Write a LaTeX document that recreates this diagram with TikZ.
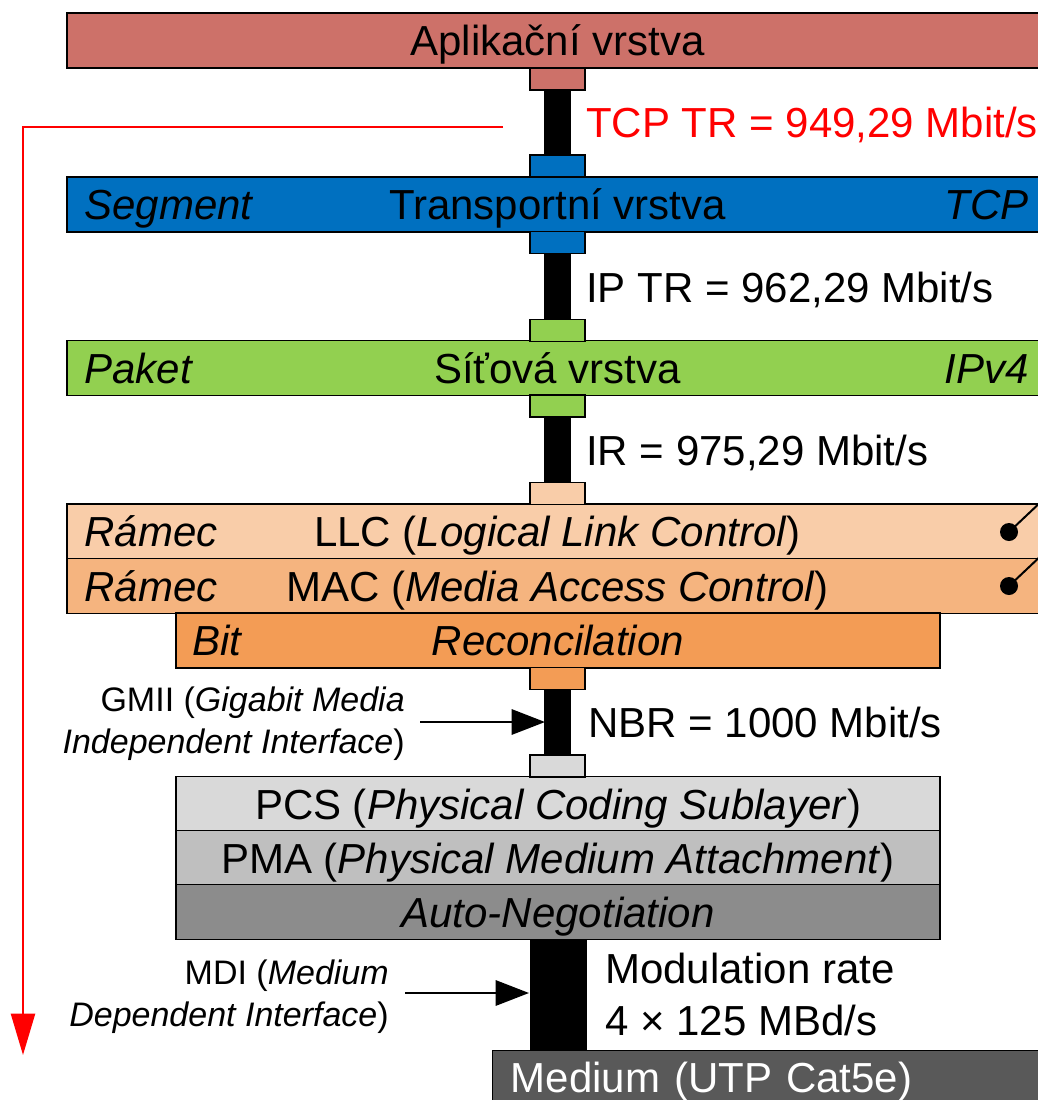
\documentclass[tikz,border=0pt]{standalone}
\usepackage{fontspec}
\setmainfont{Liberation Sans}
\usetikzlibrary{arrows.meta,calc}

% layer colours
\definecolor{appcol}{HTML}{CD7169}
\definecolor{tcpcol}{HTML}{0070C0}
\definecolor{netcol}{HTML}{92D050}
\definecolor{llccol}{HTML}{F9CDA9}
\definecolor{maccol}{HTML}{F5B47F}
\definecolor{reccol}{HTML}{F39C55}
\definecolor{pcscol}{HTML}{D9D9D9}
\definecolor{pmacol}{HTML}{BFBFBF}
\definecolor{ancol}{HTML}{8C8C8C}
\definecolor{medcol}{HTML}{595959}
\definecolor{tracecol}{HTML}{FF0000}

\tikzset{
  bigfont/.style={font=\fontsize{31.5pt}{39pt}\selectfont},
  itfont/.style={font=\fontsize{31.5pt}{39pt}\selectfont\itshape},
  smallfont/.style={font=\fontsize{25.5pt}{31.5pt}\selectfont},
  layer/.style={draw, line width=1.1pt, inner sep=0pt, minimum height=41pt,
                text height=22.5pt, text depth=0pt, bigfont},
  fulllayer/.style={layer, minimum width=735.75pt},
  halflayer/.style={layer, minimum width=573pt},
  tab/.style={draw, line width=1.1pt, minimum width=41.25pt, minimum height=16.5pt, inner sep=0pt},
  link/.style={line width=20.25pt, black},
  widelink/.style={line width=42.75pt, black},
  tag/.style={itfont, inner sep=0pt, text height=22.5pt, text depth=0pt},
  rate/.style={bigfont, inner sep=0pt, text height=22.5pt, text depth=0pt, anchor=west},
  note/.style={smallfont, align=right, inner sep=0pt, anchor=east},
  pointer/.style={line width=1.5pt, -{Triangle[length=25pt,width=19pt]}},
  trace/.style={line width=1.8pt, tracecol, -{Triangle[length=31pt,width=18pt]}},
  knob/.style={circle, fill=black, minimum size=13.5pt, inner sep=0pt},
  knobline/.style={line width=1.5pt},
}

\begin{document}
\begin{tikzpicture}[x=0.75pt, y=-0.75pt]
\path[use as bounding box, clip] (0,0) rectangle (1038,1100);

% upper layers
\node[fulllayer, fill=appcol] (app) at (557.5,40.5) {Aplikační vrstva};
\node[fulllayer, fill=tcpcol] (tcp) at (557.5,204.5) {Transportní vrstva};
\node[fulllayer, fill=netcol] (net) at (557.5,368) {Síťová vrstva};
\node[fulllayer, fill=llccol] (llc) at (557.5,531.5) {LLC (\textit{Logical Link Control})};
\node[fulllayer, fill=maccol] (mac) at (557.5,586) {MAC (\textit{Media Access Control})};
\node[halflayer, fill=reccol] (rec) at (558,640.5) {\textit{Reconcilation}};

% physical layers
\node[halflayer, fill=pcscol] (pcs) at (558,804) {PCS (\textit{Physical Coding Sublayer})};
\node[halflayer, fill=pmacol] (pma) at (558,858) {PMA (\textit{Physical Medium Attachment})};
\node[halflayer, fill=ancol] (an) at (558,912) {\textit{Auto-Negotiation}};
\node[draw, line width=1.1pt, fill=medcol, text=white, bigfont, anchor=north west,
      text width=393pt, align=left, inner xsep=13.5pt, inner ysep=0pt,
      minimum height=39.5pt, text height=22.5pt, text depth=0pt]
      (medium) at (492,1050) {Medium (UTP Cat5e)};

% side tags
\node[tag, anchor=west] (segtag) at ($(tcp.west)+(18,0)$) {Segment};
\node[tag, anchor=east] (tcptag) at ($(tcp.east)+(-20,0)$) {TCP};
\node[tag, anchor=west] (pkttag) at ($(net.west)+(18,0)$) {Paket};
\node[tag, anchor=east] (iptag) at ($(net.east)+(-20,0)$) {IPv4};
\node[tag, anchor=west] (llctag) at ($(llc.west)+(18,0)$) {Rámec};
\node[tag, anchor=west] (mactag) at ($(mac.west)+(18,0)$) {Rámec};
\node[tag, anchor=west] (bittag) at ($(rec.west)+(17,0)$) {Bit};

% links between layers
\draw[link] (557.5,79) -- (557.5,166);
\draw[link] (557.5,242.5) -- (557.5,330.5);
\draw[link] (557.5,406) -- (557.5,493.5);
\draw[link] (557.5,678.5) -- (557.5,766);
\draw[widelink] (an.south) -- (an.south |- medium.north);

% interface tabs
\node[tab, fill=appcol] (tabA) at (557.5,79) {};
\node[tab, fill=tcpcol] (tabT1) at (557.5,166) {};
\node[tab, fill=tcpcol] (tabT2) at (557.5,242.5) {};
\node[tab, fill=netcol] (tabN1) at (557.5,330.5) {};
\node[tab, fill=netcol] (tabN2) at (557.5,406) {};
\node[tab, fill=llccol] (tabL) at (557.5,493.5) {};
\node[tab, fill=reccol] (tabR) at (557.5,678.5) {};
\node[tab, fill=pcscol] (tabP) at (557.5,766) {};

% throughput labels
\node[rate, text=tracecol] (tcptr) at (586,122.5) {TCP TR = 949,29 Mbit/s};
\node[rate] (iptr) at (586,287) {IP TR = 962,29 Mbit/s};
\node[rate] (ir) at (586,450) {IR = 975,29 Mbit/s};
\node[rate] (nbr) at (588,722) {NBR = 1000 Mbit/s};
\node[bigfont, align=left, anchor=west, inner sep=0pt] (modrate) at (605,994)
  {Modulation rate\\4 × 125 MBd/s};

% interface notes
\node[note] (gmii) at (405,724) {GMII (\textit{Gigabit Media}\\\textit{Independent Interface})};
\node[note] (mdi) at (389,997) {MDI (\textit{Medium}\\\textit{Dependent Interface})};
\coordinate (gmiifrom) at (420,722);
\coordinate (gmiito) at (545,722);
\coordinate (mdifrom) at (405,993);
\coordinate (mdito) at (529,993);
\draw[pointer] (gmiifrom) -- (gmiito);
\draw[pointer] (mdifrom) -- (mdito);

% sublayer knobs
\node[knob] (llcknob) at (1009,532) {};
\node[knob] (macknob) at (1009,586) {};
\coordinate (llcknobend) at (1045,498);
\coordinate (macknobend) at (1045,552);
\draw[knobline] (llcknob.center) -- (llcknobend);
\draw[knobline] (macknob.center) -- (macknobend);

% measured TCP throughput path
\coordinate (tracefrom) at (503,127);
\coordinate (traceto) at (23,1055);
\draw[trace] (tracefrom) -| (traceto);
\end{tikzpicture}
\end{document}
